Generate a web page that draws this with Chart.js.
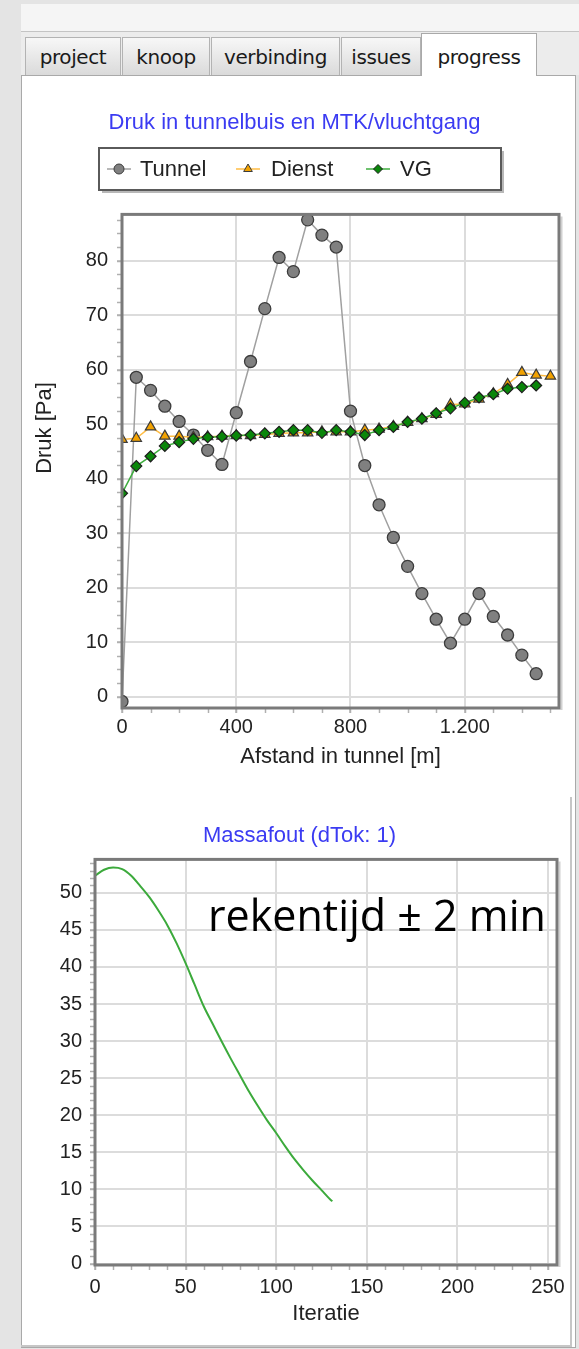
<!DOCTYPE html>
<html>
<head>
<meta charset="utf-8">
<title>progress</title>
<script src="https://cdn.jsdelivr.net/npm/chart.js@4.4.1/dist/chart.umd.min.js"></script>
<style>
html,body{margin:0;padding:0;}
body{width:579px;height:1349px;position:relative;overflow:hidden;background:#e4e4e4;}
#topbox{position:absolute;left:21px;top:4px;width:558px;height:27px;background:#f5f5f5;border-bottom:1px solid #c4c4c4;}
#tabrow{position:absolute;left:21px;top:32px;width:558px;height:43px;background:#ececec;}
.tab{position:absolute;top:37px;height:38px;box-sizing:border-box;border:1px solid #b3b3b3;border-bottom:none;background:linear-gradient(#f7f7f7,#dadada);font-family:"DejaVu Sans",sans-serif;font-size:20px;color:#1a1a1a;text-align:center;line-height:38px;letter-spacing:-0.4px;}
.tab.sel{top:33px;height:43px;background:#fff;z-index:4;line-height:46px;border-color:#a9a9a9;}
#panel{position:absolute;left:21px;top:75px;width:555px;height:1273px;box-sizing:border-box;background:#fff;border:1px solid #a9a9a9;}
#vline{position:absolute;left:570px;top:797px;width:2px;height:549px;background:#c6c6c6;}
#hline{position:absolute;left:21px;top:1345px;width:551px;height:2px;background:#c6c6c6;}
canvas{position:absolute;z-index:2;}
#c1{left:30px;top:85px;}
#c2{left:42px;top:800px;}
#note{position:absolute;z-index:3;left:208px;top:893px;font-family:"Open Sans",sans-serif;font-size:43px;line-height:43px;color:#000;white-space:nowrap;}
</style>
</head>
<body>
<div id="topbox"></div>
<div id="tabrow"></div>
<div id="panel"></div>
<div class="tab" style="left:25px;width:96px;">project</div>
<div class="tab" style="left:122px;width:88px;">knoop</div>
<div class="tab" style="left:211px;width:129px;">verbinding</div>
<div class="tab" style="left:341px;width:80px;">issues</div>
<div class="tab sel" style="left:421px;width:116px;">progress</div>
<div id="vline"></div>
<div id="hline"></div>
<canvas id="c1" width="549" height="695"></canvas>
<canvas id="c2" width="530" height="540"></canvas>
<div id="note">rekentijd ± 2 min</div>
<script>
// ---------- data: chart 1 (Druk) ----------
const distance = [0,50,100,150,200,250,300,350,400,450,500,550,600,650,700,750,800,850,900,950,1000,1050,1100,1150,1200,1250,1300,1350,1400,1450,1500];
const tunnel = [-0.9,58.6,56.2,53.3,50.5,48.0,45.2,42.6,52.1,61.5,71.2,80.6,78.0,87.5,84.7,82.5,52.4,42.4,35.2,29.2,23.9,18.9,14.2,9.8,14.2,18.9,14.7,11.3,7.6,4.2];
const dienst = [47.2,47.4,49.5,47.8,47.8,47.6,47.7,47.8,47.9,47.9,48.1,48.3,48.4,48.4,48.6,48.6,48.6,48.9,49.1,49.6,50.3,51.0,51.8,53.6,53.7,54.6,55.6,57.3,59.5,59.0,58.8];
const vg = [37.3,42.3,44.1,46.0,46.7,47.3,47.6,47.7,47.9,48.0,48.3,48.6,48.9,48.9,48.4,48.9,48.6,48.0,48.9,49.5,50.4,51.0,52.0,52.9,53.9,54.9,55.5,56.5,56.8,57.1];
const seriesNames = ['Tunnel','Dienst','VG'];
const title1 = 'Druk in tunnelbuis en MTK/vluchtgang';
const xTitle1 = 'Afstand in tunnel [m]';
const yTitle1 = 'Druk [Pa]';
const xTicks1 = [0,400,800,1200];
const xTickLabels1 = ['0','400','800','1.200'];
const yTicks1 = [0,10,20,30,40,50,60,70,80];
const yTickLabels1 = ['0','10','20','30','40','50','60','70','80'];

// ---------- data: chart 2 (Massafout) ----------
const iteration = [0,5,10,15,20,25,30,35,40,45,50,55,60,65,70,75,80,85,90,95,100,105,110,115,120,125,130,131];
const massafout = [52.3,53.1,53.4,53.2,52.3,50.9,49.4,47.6,45.6,43.2,40.5,37.6,34.7,32.3,29.9,27.6,25.4,23.2,21.2,19.3,17.6,15.8,14.1,12.6,11.2,9.9,8.6,8.4];
const title2 = 'Massafout (dTok: 1)';
const xTitle2 = 'Iteratie';
const xTicks2 = [0,50,100,150,200,250];
const xTickLabels2 = ['0','50','100','150','200','250'];
const yTicks2 = [0,5,10,15,20,25,30,35,40,45,50];
const yTickLabels2 = ['0','5','10','15','20','25','30','35','40','45','50'];

// ---------- helpers / plugins ----------
Chart.defaults.font.family = '"Liberation Sans", Arial, sans-serif';
Chart.defaults.color = '#222';

function pairs(xs, ys) { return ys.map((v, i) => ({ x: xs[i], y: v })); }

const chartFrame = {
  id: 'chartFrame',
  afterDraw(chart, args, o) {
    const { ctx, chartArea: a, scales: { x, y } } = chart;
    ctx.save();
    ctx.strokeStyle = o.tickColor;
    ctx.lineWidth = 1.5;
    for (let k = Math.ceil(y.min / o.minorY); k * o.minorY <= y.max; k++) {
      const p = Math.round(y.getPixelForValue(k * o.minorY)) + 0.5;
      ctx.beginPath(); ctx.moveTo(a.left - 5, p); ctx.lineTo(a.left - 1, p); ctx.stroke();
    }
    for (let k = Math.ceil(x.min / o.minorX); k * o.minorX <= x.max; k++) {
      const p = Math.round(x.getPixelForValue(k * o.minorX)) + 0.5;
      ctx.beginPath(); ctx.moveTo(p, a.bottom + 1); ctx.lineTo(p, a.bottom + 5); ctx.stroke();
    }
    ctx.strokeStyle = '#d0d0d0'; ctx.lineWidth = 2;
    ctx.beginPath(); ctx.moveTo(a.right + 2.5, a.top + 2); ctx.lineTo(a.right + 2.5, a.bottom + 2); ctx.stroke();
    ctx.strokeStyle = o.frameColor; ctx.lineWidth = 3;
    ctx.strokeRect(a.left, a.top, a.right - a.left, a.bottom - a.top);
    ctx.restore();
  }
};

const boxLegend = {
  id: 'boxLegend',
  afterDraw(chart, args, o) {
    if (!o.show) return;
    const ctx = chart.ctx;
    ctx.save();
    ctx.fillStyle = 'rgba(0,0,0,0.28)';
    ctx.fillRect(o.x + 3, o.y + 3, o.w, o.h);
    ctx.fillStyle = '#fff';
    ctx.fillRect(o.x, o.y, o.w, o.h);
    ctx.strokeStyle = '#5a5a5a'; ctx.lineWidth = 2;
    ctx.strokeRect(o.x, o.y, o.w, o.h);
    const cy = o.y + o.h / 2;
    chart.data.datasets.forEach((ds, i) => {
      const sx = o.symbolX[i];
      ctx.strokeStyle = ds.borderColor; ctx.lineWidth = 1.5;
      ctx.beginPath(); ctx.moveTo(sx - 12, cy); ctx.lineTo(sx + 12, cy); ctx.stroke();
      ctx.fillStyle = ds.pointBackgroundColor; ctx.strokeStyle = ds.pointBorderColor; ctx.lineWidth = 1;
      Chart.helpers.drawPoint(ctx, { pointStyle: ds.pointStyle, radius: ds.pointRadius - 1, borderWidth: 1, rotation: 0 }, sx, cy);
      ctx.fillStyle = '#222';
      ctx.font = o.font;
      ctx.textBaseline = 'middle'; ctx.textAlign = 'left';
      ctx.fillText(ds.label, o.textX[i], cy + 1);
    });
    ctx.restore();
  }
};

const sideTitle = {
  id: 'sideTitle',
  afterDraw(chart, args, o) {
    if (!o.text) return;
    const ctx = chart.ctx;
    ctx.save();
    ctx.translate(o.x, o.y);
    ctx.rotate(-Math.PI / 2);
    ctx.font = o.font; ctx.fillStyle = '#222';
    ctx.textAlign = 'center'; ctx.textBaseline = 'middle';
    ctx.fillText(o.text, 0, 0);
    ctx.restore();
  }
};

const gridStyle = { color: '#dcdcdc', lineWidth: 2, tickLength: 5, tickColor: '#b0b0b0', tickWidth: 1.5 };

// ---------- chart 1 ----------
new Chart(document.getElementById('c1'), {
  type: 'line',
  data: {
    datasets: [
      { label: seriesNames[0], data: pairs(distance, tunnel), borderColor: '#a0a0a0', borderWidth: 1.5,
        pointStyle: 'circle', pointRadius: 6, pointBackgroundColor: '#808080', pointBorderColor: '#3c3c3c', pointBorderWidth: 1.3, order: 3 },
      { label: seriesNames[1], data: pairs(distance, dienst), borderColor: '#ffbd45', borderWidth: 1.5,
        pointStyle: 'triangle', pointRadius: 6, pointBackgroundColor: '#f2a200', pointBorderColor: '#3c3c3c', pointBorderWidth: 1.2, order: 2 },
      { label: seriesNames[2], data: pairs(distance, vg), borderColor: '#3fae3f', borderWidth: 1.5,
        pointStyle: 'rectRot', pointRadius: 5.5, pointBackgroundColor: '#0a860a', pointBorderColor: '#1e1e1e', pointBorderWidth: 1.2, order: 1 }
    ]
  },
  options: {
    responsive: false, animation: false, events: [],
    layout: { padding: { left: 0, right: 20, top: 0, bottom: 0 } },
    plugins: {
      legend: { display: false }, tooltip: { enabled: false },
      title: { display: true, text: title1, color: '#3b3bf2', font: { size: 22, weight: 'normal' }, padding: { top: 25, bottom: 78 } },
      chartFrame: { minorX: 100, minorY: 2.5, tickColor: '#b0b0b0', frameColor: '#7a7a7a' },
      boxLegend: { show: true, x: 69, y: 63, w: 402, h: 42, symbolX: [89, 218, 348], textX: [110, 241, 370], font: '22px "Liberation Sans", Arial, sans-serif' },
      sideTitle: { text: yTitle1, x: 15, y: 343, font: '22px "Liberation Sans", Arial, sans-serif' }
    },
    scales: {
      x: {
        type: 'linear', min: 0, max: 1530,
        afterBuildTicks: s => { s.ticks = xTicks1.map(v => ({ value: v })); },
        afterFit: s => { s.height = 72; },
        grid: gridStyle, border: { display: false },
        ticks: { autoSkip: false, maxRotation: 0, padding: 2, font: { size: 20 }, callback: v => xTickLabels1[xTicks1.indexOf(v)] },
        title: { display: true, text: xTitle1, font: { size: 22 }, padding: { top: 0, bottom: 10 } }
      },
      y: {
        type: 'linear', min: -2.1, max: 88.5,
        afterBuildTicks: s => { s.ticks = yTicks1.map(v => ({ value: v })); },
        afterFit: s => { s.width = 92; },
        grid: gridStyle, border: { display: false },
        ticks: { autoSkip: false, padding: 9, font: { size: 20 }, callback: v => yTickLabels1[yTicks1.indexOf(v)] }
      }
    }
  },
  plugins: [chartFrame, boxLegend, sideTitle]
});

// ---------- chart 2 ----------
new Chart(document.getElementById('c2'), {
  type: 'line',
  data: {
    datasets: [
      { label: title2, data: pairs(iteration, massafout), borderColor: '#3caa3c', borderWidth: 2,
        pointRadius: 0, cubicInterpolationMode: 'monotone' }
    ]
  },
  options: {
    responsive: false, animation: false, events: [],
    layout: { padding: { left: 0, right: 15, top: 0, bottom: 0 } },
    plugins: {
      legend: { display: false }, tooltip: { enabled: false },
      title: { display: true, text: title2, color: '#3b3bf2', font: { size: 22, weight: 'normal' }, padding: { top: 23, bottom: 10 } },
      chartFrame: { minorX: 10, minorY: 1, tickColor: '#b0b0b0', frameColor: '#7a7a7a' },
      boxLegend: { show: false },
      sideTitle: { text: '' }
    },
    scales: {
      x: {
        type: 'linear', min: 0, max: 255,
        afterBuildTicks: s => { s.ticks = xTicks2.map(v => ({ value: v })); },
        afterFit: s => { s.height = 75; },
        grid: gridStyle, border: { display: false },
        ticks: { autoSkip: false, maxRotation: 0, padding: 5, font: { size: 20 }, callback: v => xTickLabels2[xTicks2.indexOf(v)] },
        title: { display: true, text: xTitle2, font: { size: 22 }, padding: { top: 0, bottom: 13 } }
      },
      y: {
        type: 'linear', min: -0.2, max: 54.5,
        afterBuildTicks: s => { s.ticks = yTicks2.map(v => ({ value: v })); },
        afterFit: s => { s.width = 53; },
        grid: gridStyle, border: { display: false },
        ticks: { autoSkip: false, padding: 8, font: { size: 20 }, callback: v => yTickLabels2[yTicks2.indexOf(v)] }
      }
    }
  },
  plugins: [chartFrame, boxLegend, sideTitle]
});
</script>
</body>
</html>
